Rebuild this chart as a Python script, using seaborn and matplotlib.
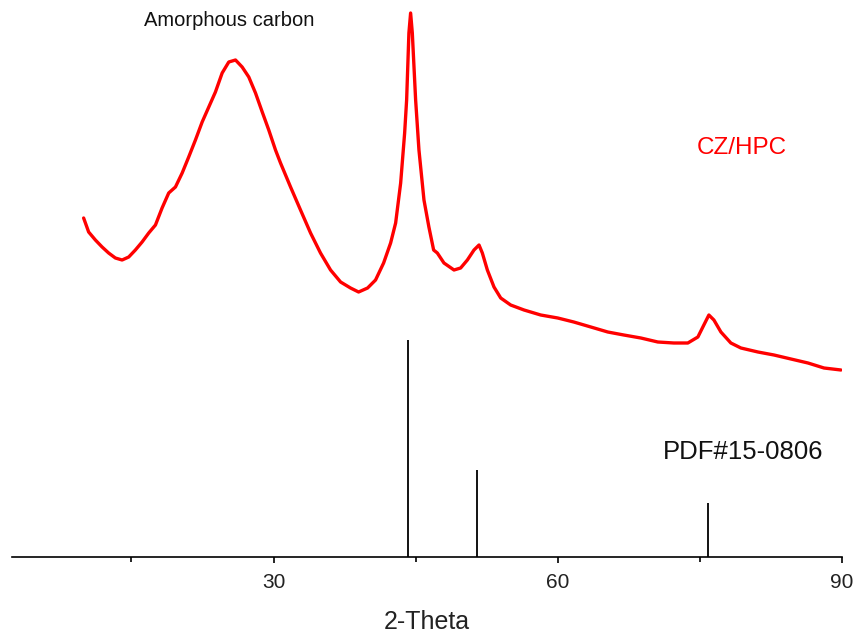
import numpy as np
import pandas as pd
import matplotlib
matplotlib.use("Agg")
import matplotlib.pyplot as plt
import seaborn as sns

# XRD pattern of CZ/HPC (arbitrary intensity units)
two_theta = [9.96, 10.49, 11.20, 11.91, 12.60, 13.31, 14.02, 14.72, 15.42, 16.13,
             16.83, 17.54, 18.24, 18.94, 19.65, 20.36, 21.05, 21.76, 22.47, 23.17,
             23.87, 24.58, 25.28, 25.99, 26.69, 27.39, 28.10, 28.81, 29.50, 30.21,
             30.74, 31.80, 32.85, 33.91, 34.96, 36.02, 37.08, 38.13, 38.98, 39.93,
             40.77, 41.62, 42.36, 42.89, 43.42, 43.84, 44.05, 44.29, 44.47, 44.65,
             45.00, 45.35, 45.88, 46.40, 46.90, 47.29, 47.99, 49.05, 49.75, 50.46,
             51.16, 51.69, 52.04, 52.57, 53.27, 53.98, 55.03, 56.44, 58.20, 60.00,
             61.69, 63.49, 65.28, 66.97, 68.77, 70.56, 72.25, 73.73, 74.79, 75.42,
             75.95, 76.48, 77.22, 78.27, 79.33, 81.13, 82.82, 84.61, 86.41, 88.10,
             89.89]
intensity = [339, 325, 317, 310, 304, 299, 297, 300, 307, 315,
             324, 332, 349, 364, 370, 384, 400, 417, 435, 450,
             465, 484, 495, 497, 490, 480, 464, 445, 427, 407,
             394, 370, 347, 324, 304, 287, 275, 269, 265, 269,
             277, 294, 314, 334, 374, 424, 457, 524, 544, 524,
             457, 407, 357, 330, 307, 304, 294, 287, 289, 297,
             307, 312, 304, 287, 270, 259, 252, 247, 242, 239,
             235, 230, 225, 222, 219, 215, 214, 214, 220, 232,
             242, 237, 225, 214, 209, 205, 202, 198, 194, 189,
             187]

# Reference pattern PDF#15-0806 (Co)
ref_pos = [44.2, 51.5, 75.85]
ref_int = [217, 87, 54]

x_ticks = [30, 60, 90]
x_minor = [15, 45, 75]

sns.set_style("white")
plt.rcParams['font.family'] = ['Liberation Sans', 'DejaVu Sans']

fig = plt.figure(figsize=(8.55, 6.33), dpi=100)
ax = fig.add_axes([12/855, 1 - 557/633, 830/855, 557/633])

df = pd.DataFrame({"2-Theta": two_theta, "Intensity": intensity})
sns.lineplot(data=df, x="2-Theta", y="Intensity", ax=ax, color="#ff0000",
             linewidth=2.4, sort=False)
ax.vlines(ref_pos, 0, ref_int, color="black", linewidth=1.3)

ax.set_xlim(2.4, 90)
ax.set_ylim(0, 557)
ax.set_xticks(x_ticks)
ax.set_xticks(x_minor, minor=True)
ax.set_yticks([])
for s in ["top", "right", "left"]:
    ax.spines[s].set_visible(False)
ax.spines["bottom"].set_linewidth(1.2)
ax.spines["bottom"].set_color("black")
ax.tick_params(axis="x", which="major", direction="out", length=4.5, width=1.2,
               pad=7, labelsize=15, bottom=True, colors="black", labelcolor="#222222")
ax.tick_params(axis="x", which="minor", direction="out", length=3.5, width=1.2,
               bottom=True, colors="black")
ax.set_ylabel("")
ax.set_xlabel("2-Theta", fontsize=18, labelpad=13, color="#222222")
ax.patch.set_alpha(0)

ax.text(25.35, 537, "Amorphous carbon", fontsize=14.5, ha="center", va="center", color="#111111")
ax.text(79.45, 409, "CZ/HPC", fontsize=17.5, ha="center", va="center", color="#ff0000")
ax.text(79.55, 105, "PDF#15-0806", fontsize=18.5, ha="center", va="center", color="#111111")

fig.savefig("out.png", dpi=100)
